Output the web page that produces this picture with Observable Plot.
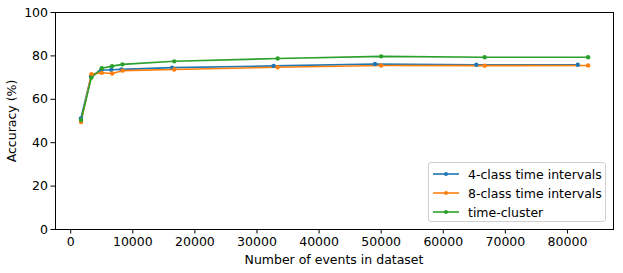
<!DOCTYPE html>
<html>
<head>
<meta charset="utf-8">
<script src="https://cdn.jsdelivr.net/npm/d3@7"></script>
<script src="https://cdn.jsdelivr.net/npm/@observablehq/plot@0.6"></script>
<style>
  html, body { margin: 0; padding: 0; background: #fff; }
  #wrap { position: relative; width: 623px; height: 273px; font-family: "DejaVu Sans", sans-serif; }
  #legend { position: absolute; left: 428px; top: 162px; width: 178px; height: 60px;
    border: 1px solid #d0d0d0; border-radius: 3px; background: rgba(255,255,255,0.8); box-sizing: border-box; }
  .row { position: absolute; left: 0; height: 19px; display: flex; align-items: center; font-size: 12.5px; color: #000; white-space: nowrap; }
  .row svg { margin-left: 3px; margin-right: 9px; }
  .axlabel { position: absolute; font-size: 12.5px; color: #000; white-space: nowrap; line-height: 1; }
  #xlabel { left: 334px; top: 259.5px; transform: translate(-50%, -50%); }
  #ylabel { left: 12px; top: 121px; transform: translate(-50%, -50%) rotate(-90deg); }
</style>
</head>
<body>
<div id="wrap"><div id="legend"></div></div>
<script>
const seriesNames = ["4-class time intervals", "8-class time intervals", "time-cluster"];
const seriesColors = ["#1f77b4", "#ff7f0e", "#2ca02c"];
const eventsFourClass = [1633, 3267, 4900, 6533, 8167, 16333, 32667, 49000, 65333, 81667];
const eventsOther = [1666, 3333, 5000, 6666, 8333, 16666, 33333, 50000, 66666, 83333];
const accFourClass = [51.2, 70.5, 73.4, 73.6, 73.8, 74.6, 75.4, 76.3, 75.9, 75.9];
const accEightClass = [49.5, 71.6, 72.2, 71.9, 73.2, 73.7, 74.8, 75.6, 75.5, 75.6];
const accTimeCluster = [50.5, 70.0, 74.3, 75.3, 76.1, 77.5, 78.8, 79.8, 79.4, 79.4];
const xTicks = [0, 10000, 20000, 30000, 40000, 50000, 60000, 70000, 80000];
const yTicks = [0, 20, 40, 60, 80, 100];
const xTitle = "Number of events in dataset";
const yTitle = "Accuracy (%)";

const data = [];
const seriesX = [eventsFourClass, eventsOther, eventsOther];
const seriesY = [accFourClass, accEightClass, accTimeCluster];
seriesNames.forEach((name, i) => {
  seriesX[i].forEach((x, j) => data.push({series: name, x, y: seriesY[i][j]}));
});

const xMin = d3.min(data, d => d.x), xMax = d3.max(data, d => d.x);
const pad = 0.05 * (xMax - xMin);

const chart = Plot.plot({
  width: 623,
  height: 273,
  marginLeft: 55,
  marginRight: 10,
  marginTop: 12,
  marginBottom: 44,
  style: {fontFamily: "DejaVu Sans, sans-serif", fontSize: "12.5px", color: "#000", background: "#fff"},
  x: {domain: [xMin - pad, xMax + pad], ticks: xTicks, tickFormat: d => String(d), tickSize: 4.5, tickPadding: 3, label: null},
  y: {domain: [0, 100], ticks: yTicks, tickSize: 4.5, tickPadding: 3, label: null},
  color: {domain: seriesNames, range: seriesColors},
  marks: [
    Plot.line(data, {x: "x", y: "y", z: "series", stroke: "series", strokeWidth: 1.6}),
    Plot.dot(data, {x: "x", y: "y", fill: "series", r: 2.2}),
    Plot.frame({stroke: "#000", strokeWidth: 1})
  ]
});
const wrap = document.getElementById("wrap");
wrap.prepend(chart);

const xl = document.createElement("div");
xl.className = "axlabel"; xl.id = "xlabel"; xl.textContent = xTitle; wrap.appendChild(xl);
const yl = document.createElement("div");
yl.className = "axlabel"; yl.id = "ylabel"; yl.textContent = yTitle; wrap.appendChild(yl);

const legend = document.getElementById("legend");
seriesNames.forEach((name, i) => {
  const row = document.createElement("div");
  row.className = "row";
  row.style.top = (1.5 + i * 19) + "px";
  row.innerHTML = `<svg width="27" height="8"><line x1="1" x2="27" y1="4" y2="4" stroke="${seriesColors[i]}" stroke-width="1.6"/><circle cx="14" cy="4" r="2" fill="${seriesColors[i]}"/></svg><span>${name}</span>`;
  legend.appendChild(row);
});
</script>
</body>
</html>
